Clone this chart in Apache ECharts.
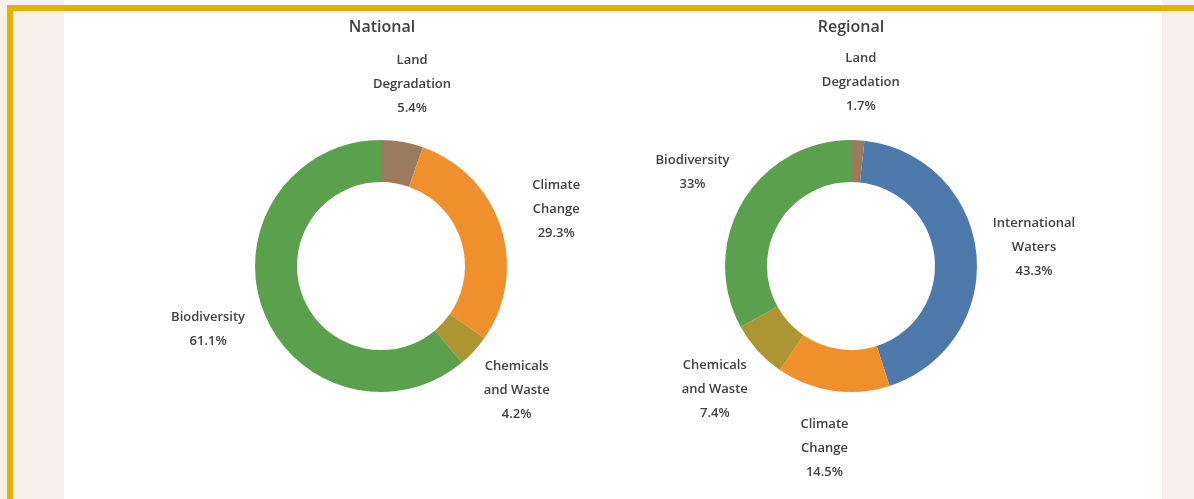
<!DOCTYPE html>
<html>
<head>
<meta charset="utf-8">
<script src="https://cdn.jsdelivr.net/npm/echarts@6/dist/echarts.min.js"></script>
<style>
    html, body { margin: 0; padding: 0; width: 1194px; height: 499px; overflow: hidden; background: #f7f1e9; }
    #panel { position: absolute; left: 64px; top: 0; width: 1098px; height: 499px; background: #ffffff; }
    #goldTop { position: absolute; left: 7px; top: 5px; width: 1187px; height: 6px; background: #e3b102; }
    #goldLeft { position: absolute; left: 7px; top: 5px; width: 6px; height: 494px; background: #e3b102; }
    #chart { position: absolute; left: 0; top: 0; width: 1194px; height: 499px; }
</style>
</head>
<body>
<div id="panel"></div>
<div id="goldTop"></div>
<div id="goldLeft"></div>
<div id="chart"></div>
<script>
const chartDom = document.querySelector('#chart')

// National
const nationalNames = ['Land\nDegradation', 'Climate\nChange', 'Chemicals\nand Waste', 'Biodiversity']
const nationalValues = [5.4, 29.3, 4.2, 61.1]
const nationalColors = ['#9c7a5e', '#f0902c', '#ad9631', '#5ba04c']

// Regional
const regionalNames = ['Land\nDegradation', 'International\nWaters', 'Climate\nChange', 'Chemicals\nand Waste', 'Biodiversity']
const regionalValues = [1.7, 43.3, 14.5, 7.4, 33]
const regionalLabels = ['1.7%', '43.3%', '14.5%', '7.4%', '33%']
const regionalColors = ['#9c7a5e', '#4d7aab', '#f0902c', '#ad9631', '#5ba04c']

const nationalLabels = nationalValues.map((v) => v + '%')

const labelFont = {
    fontFamily: 'Open Sans',
    fontSize: 13,
    fontWeight: 600,
    color: '#404040',
    lineHeight: 24,
}

function makeData(names, values, colors) {
    return names.map((n, i) => ({ name: n, value: values[i], itemStyle: { color: colors[i] } }))
}

// donut ring itself
function ringSeries(center, names, values, colors) {
    return {
        type: 'pie',
        center: center,
        radius: [84, 126],
        startAngle: 90,
        clockwise: true,
        silent: true,
        label: { show: false },
        labelLine: { show: false },
        emphasis: { disabled: true },
        data: makeData(names, values, colors),
    }
}

// transparent ring just to put the labels at a fixed radius (excel style)
function labelSeries(center, names, values, texts) {
    return {
        type: 'pie',
        center: center,
        radius: [180, 182],
        startAngle: 90,
        clockwise: true,
        silent: true,
        itemStyle: { color: 'rgba(0,0,0,0)' },
        emphasis: { disabled: true },
        label: Object.assign({
            show: true,
            position: 'inside',
            formatter: (p) => p.name + '\n' + texts[p.dataIndex],
        }, labelFont),
        labelLine: { show: false },
        data: names.map((n, i) => ({ name: n, value: values[i] })),
    }
}

const titleStyle = { fontFamily: 'Open Sans', fontSize: 16, fontWeight: 600, color: '#404040' }

let myChart = echarts.init(chartDom)
let option = {
    animation: false,
    title: [
        { text: 'National', left: 382, top: 19, padding: 0, textAlign: 'center', textStyle: titleStyle },
        { text: 'Regional', left: 851, top: 19, padding: 0, textAlign: 'center', textStyle: titleStyle },
    ],
    series: [
        ringSeries([381, 266], nationalNames, nationalValues, nationalColors),
        labelSeries([381, 266], nationalNames, nationalValues, nationalLabels),
        ringSeries([851, 266], regionalNames, regionalValues, regionalColors),
        labelSeries([851, 266], regionalNames, regionalValues, regionalLabels),
    ],
}
myChart.setOption(option)
</script>
</body>
</html>
